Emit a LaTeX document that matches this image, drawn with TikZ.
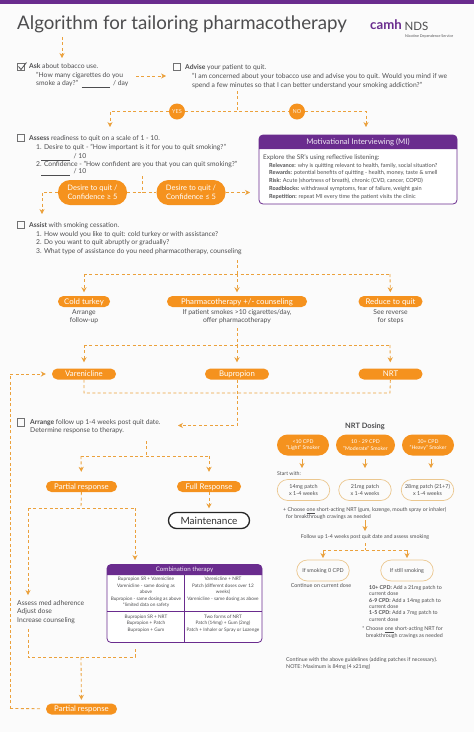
\documentclass[tikz,border=0pt]{standalone}
\usepackage{fontspec}
\setmainfont{Lato}
\usetikzlibrary{arrows.meta}
\definecolor{orng}{HTML}{F5921E}
\definecolor{dashc}{HTML}{EBA13C}
\definecolor{purp}{HTML}{6A2C8E}
\definecolor{ink}{HTML}{4D4D4F}
\definecolor{paper}{HTML}{FBFBFB}
\definecolor{pale}{HTML}{EBC78F}
\newcommand{\fs}[1]{\fontsize{#1}{#1}\selectfont}
\newcommand{\blank}[1]{\rule[-1.5pt]{#1pt}{0.4pt}}
\tikzset{
  x=1pt,y=-1pt,
  every node/.style={text=ink},
  lab/.style={inner sep=0,anchor=west,text height=.72em,text depth=.2em,font=\fs{6.75}},
  small/.style={lab,font=\fs{5.6}},
  clab/.style={inner sep=0,align=center,font=\fs{6.75}},
  cell/.style={inner sep=0,align=center,font=\fs{4.7}},
  pill/.style={fill=orng,rounded corners=5.4,inner sep=0,text=white,font=\fs{7.8},minimum height=11,text height=.72em,text depth=.2em},
  bigpill/.style={fill=orng,rounded corners=12,inner sep=0,text=white,font=\fs{7.5},minimum height=25,minimum width=69,align=center},
  dosepill/.style={fill=orng,rounded corners=10.5,inner sep=0,text=white,font=\fs{5.2},minimum height=21,align=center},
  halo/.style={draw=pale,line width=.7,fill=paper,rounded corners=10.5,inner sep=0,font=\fs{5.4},minimum height=21,minimum width=52.5,align=center},
  disc/.style={circle,fill=orng,inner sep=0,minimum size=16,text=white!85!orng,font=\fs{5.5}},
  tick/.style={draw=ink!80,line width=.7,minimum size=7.6,inner sep=0},
  conn/.style={draw=dashc,line width=.85,dash pattern=on 3pt off 2.4pt},
  arr/.style={conn,-{Stealth[length=5pt,width=5.2pt,fill=dashc]}},
  into/.style={arr,shorten >=3.5pt},
}
\begin{document}
\begin{tikzpicture}
\useasboundingbox (0,0) rectangle (474,732);
\fill[paper] (0,0) rectangle (474,732);
\fill[purp] (0,0) rectangle (474,3.5);

% header
\node[lab,font=\fs{18.7}] (title) at (17,27) {Algorithm for tailoring pharmacotherapy};
\node[lab,font=\bfseries\fs{13.2},text=purp] (camh) at (370,26.5) {camh};
\node[lab,font=\fs{11.5}] (nds) at (404.5,27.5) {NDS};
\node[lab,font=\fs{3.7}] (nds2) at (405,34.5) {Nicotine Dependence Service};

% ask / advise
\coordinate (top1) at (62,37);
\coordinate (top2) at (62,58);
\node[tick] (askbox) at (21,67) {};
\draw[ink,line width=.8] (18.5,66.5) -- (21,69.5) -- (26.5,62.5);
\node[lab] (ask) at (29,65.5) {\textbf{Ask} about tobacco use.};
\node[lab] (ask1) at (36,74.5) {"How many cigarettes do you};
\node[lab] (ask2) at (36,83) {smoke a day?"\ \ \blank{28}\ \ / day};
\coordinate (a1) at (136,76);
\coordinate (a2) at (166,76);
\node[tick] (advbox) at (177,67) {};
\node[lab] (adv) at (185,67) {\textbf{Advise} your patient to quit.};
\node[lab] (adv1) at (192,76) {"I am concerned about your tobacco use and advise you to quit. Would you mind if we};
\node[lab] (adv2) at (192,85) {spend a few minutes so that I can better understand your smoking addiction?"};

% yes / no
\coordinate (b0) at (237,91);
\coordinate (b1) at (237,111.5);
\node[disc] (yes) at (177,111.5) {YES};
\node[disc] (no) at (297,111.5) {NO};
\coordinate (bl) at (110,111.5);
\coordinate (br) at (366,111.5);
\coordinate (bl2) at (110,127);
\coordinate (br2) at (366,127);

% assess
\node[tick] (assbox) at (21,138) {};
\node[lab] (ass) at (29,138) {\textbf{Assess} readiness to quit on a scale of 1 - 10.};
\node[lab] (ass1) at (36,147) {1. Desire to quit - "How important is it for you to quit smoking?"};
\node[lab] (ass2) at (41,156) {\blank{29}\ \ / 10};
\node[lab] (ass3) at (36,164) {2. Confidence - "How confident are you that you can quit smoking?"};
\node[lab] (ass4) at (41,171) {\blank{29}\ \ / 10};
\node[bigpill] (d1) at (92.5,192.5) {Desire to quit /\\[1.5pt]Confidence ≥ 5};
\node[bigpill] (d2) at (191,192.5) {Desire to quit /\\[1.5pt]Confidence ≤ 5};
\coordinate (c0) at (142,176);
\coordinate (c1) at (142,192.5);
\coordinate (c2) at (250,192.5);
\coordinate (c3) at (42,192.5);
\coordinate (c4) at (42,214);

% MI
\node[draw=purp,line width=.8,fill=white,rounded corners=4,minimum width=198,minimum height=69,inner sep=0] (mi) at (358,169.5) {};
\fill[purp] (259,149) [rounded corners=4]-- (259,135) -- (457,135) [sharp corners]-- (457,149) -- cycle;
\node[clab,text=white!90!purp,font=\fs{7.8}] (mih) at (358,142) {Motivational Interviewing (MI)};
\node[lab,font=\fs{6.4}] (mi0) at (263,157) {Explore the SR's using reflective listening:};
\node[small] (mi1) at (269,164.5) {\textbf{Relevance:} why is quitting relevant to health, family, social situation?};
\node[small] (mi2) at (269,172.3) {\textbf{Rewards:} potential benefits of quitting - health, money, taste \& smell};
\node[small] (mi3) at (269,180) {\textbf{Risk:} Acute (shortness of breath), chronic (CVD, cancer, COPD)};
\node[small] (mi4) at (269,188) {\textbf{Roadblocks:} withdrawal symptoms, fear of failure, weight gain};
\node[small] (mi5) at (269,195.7) {\textbf{Repetition:} repeat MI every time the patient visits the clinic};

% assist
\node[tick] (asibox) at (21,225) {};
\node[lab] (asi) at (29,225) {\textbf{Assist} with smoking cessation.};
\node[lab] (asi1) at (36,233.7) {1. How would you like to quit: cold turkey or with assistance?};
\node[lab] (asi2) at (36,242.3) {2. Do you want to quit abruptly or gradually?};
\node[lab] (asi3) at (36,251) {3. What type of assistance do you need pharmacotherapy, counseling};

\coordinate (e0) at (237,260);
\coordinate (e1) at (237,274);
\coordinate (el) at (84,274);
\coordinate (er) at (390,274);
\node[pill,minimum width=52] (cold) at (84,301.5) {Cold turkey};
\node[pill,minimum width=140] (pharm) at (237,301.5) {Pharmacotherapy +/- counseling};
\node[pill,minimum width=64] (reduce) at (390.5,301.5) {Reduce to quit};
\node[clab] (coldt) at (84,316.5) {Arrange\\[1.9pt]follow-up};
\node[clab] (pharmt) at (237,316.5) {If patient smokes >10 cigarettes/day,\\[1.9pt]offer pharmacotherapy};
\node[clab] (redt) at (390.5,316.5) {See reverse\\[1.9pt]for steps};

\coordinate (f0) at (237,328);
\coordinate (f1) at (237,345);
\coordinate (fl) at (84,345);
\coordinate (fr) at (390,345);
\node[pill,minimum width=64] (var) at (84,374) {Varenicline};
\node[pill,minimum width=64] (bup) at (237,374) {Bupropion};
\node[pill,minimum width=64] (nrt) at (390.5,374) {NRT};
\coordinate (g1) at (237,393);
\coordinate (gl) at (84,393);
\coordinate (gr) at (390,393);
\coordinate (g2) at (237,425.5);
\coordinate (g3) at (178,425.5);
\coordinate (h1) at (10,374);
\coordinate (h2) at (10,708.5);

% arrange
\node[tick] (arrbox) at (21,422.5) {};
\node[lab] (arr1) at (30,421.7) {\textbf{Arrange} follow up 1-4 weeks post quit date.};
\node[lab] (arr2) at (30,430.3) {Determine response to therapy.};
\coordinate (i0) at (146,441);
\coordinate (i1) at (146,456);
\coordinate (il) at (81,456);
\coordinate (ir) at (209,456);
\node[pill,minimum width=71] (part) at (81.5,486.5) {Partial response};
\node[pill,minimum width=64] (full) at (209,486.5) {Full Response};
\node[draw=black!85,line width=1.3,fill=white,rounded corners=8,minimum width=81,minimum height=16,inner sep=0,font=\fs{10},text=black!80] (maint) at (209,520.5) {Maintenance};

\coordinate (k1) at (81,508);
\coordinate (kl) at (28,508);
\coordinate (kr) at (135,508);
\coordinate (kl2) at (28,595);
\coordinate (kr2) at (135,560);

\node[lab] (adh1) at (17,602.5) {Assess med adherence};
\node[lab] (adh2) at (17,611) {Adjust dose};
\node[lab] (adh3) at (17,620) {Increase counseling};

% combination therapy
\node[draw=purp,line width=.8,fill=white,rounded corners=4,minimum width=155,minimum height=78,inner sep=0] (combo) at (184.5,603.5) {};
\fill[purp] (107,575) [rounded corners=4]-- (107,564.5) -- (262,564.5) [sharp corners]-- (262,575) -- cycle;
\draw[purp,line width=.7] (184.5,575) -- (184.5,642.5) (107,611) -- (262,611);
\node[clab,text=white!90!purp,font=\fs{6.2}] (comboh) at (184.5,570) {Combination therapy};
\node[cell,anchor=north] (c11) at (146,577) {Bupropion SR + Varenicline\\[1.8pt]Varenicline - same dosing as\\[1.8pt]above\\[1.8pt]Bupropion - same dosing as above\\[1.8pt]*limited data on safety};
\node[cell,anchor=north] (c12) at (223,577) {Varenicline + NRT\\[1.8pt]Patch (different doses over 12\\[1.8pt]weeks)\\[1.8pt]Varenicline - same dosing as above};
\node[cell,anchor=north] (c21) at (146,614.5) {Bupropion SR + NRT\\[1.8pt]Bupropion + Patch\\[1.8pt]Bupropion + Gum};
\node[cell,anchor=north] (c22) at (223,614.5) {Two forms of NRT\\[1.8pt]Patch (14mg) + Gum (2mg)\\[1.8pt]Patch + Inhaler or Spray or Lozenge};

\coordinate (m0) at (28,629);
\coordinate (m1) at (28,657);
\coordinate (m2) at (135,649);
\coordinate (m3) at (135,657);
\coordinate (m4) at (81,657);
\node[pill,minimum width=71] (part2) at (81.5,709) {Partial response};

% NRT dosing
\node[clab,font=\bfseries\fs{7.4}] (dose) at (365,426) {NRT Dosing};
\node[dosepill,minimum width=52] (o1) at (303,445) {<10 CPD\\[1.5pt]"Light" Smoker};
\node[dosepill,minimum width=59] (o2) at (365.5,445) {10 - 29 CPD\\[1.5pt]"Moderate" Smoker};
\node[dosepill,minimum width=52] (o3) at (428,445) {30+ CPD\\[1.5pt]"Heavy" Smoker};
\node[lab,font=\fs{5.2}] (start) at (277,473) {Start with:};
\node[halo] (p1) at (303.5,490) {14mg patch\\[1pt]x 1-4 weeks};
\node[halo] (p2) at (365,490) {21mg patch\\[1pt]x 1-4 weeks};
\node[halo] (p3) at (427.5,490) {28mg patch (21+7)\\[1pt]x 1-4 weeks};
\coordinate (w1) at (302,459);
\coordinate (w2) at (302,468);
\coordinate (w3) at (365,459);
\coordinate (w4) at (365,468);
\coordinate (w5) at (431,459);
\coordinate (w6) at (431,468);
\draw[arr,dash pattern=] (w1) -- (w2);
\draw[arr,dash pattern=] (w3) -- (w4);
\draw[arr,dash pattern=] (w5) -- (w6);
\node[lab,font=\fs{5.3}] (ch1) at (283,509) {+ Choose \underline{one} short-acting NRT (gum, lozenge, mouth spray or inhaler)};
\node[lab,font=\fs{5.3}] (ch2) at (286,515.5) {for breakthrough cravings as needed};
\coordinate (n0) at (365,520);
\coordinate (n1) at (365,531);
\node[clab,font=\fs{5.3}] (fu) at (365,537.5) {Follow up 1-4 weeks post quit date and assess smoking};
\coordinate (q0) at (365,543);
\coordinate (q1) at (365,550);
\coordinate (ql) at (323,550);
\coordinate (qr) at (407,550);
\coordinate (ql2) at (323,558);
\coordinate (qr2) at (407,558);
\node[halo] (s1) at (323,570.5) {If smoking 0 CPD};
\node[halo] (s2) at (407,570.5) {If still smoking};
\node[clab,font=\fs{5.4}] (cont) at (321,586) {Continue on current dose};
\node[lab,font=\fs{5.3}] (t1) at (369,587) {\textbf{10+ CPD:} Add a 21mg patch to};
\node[lab,font=\fs{5.3}] (t2) at (369,593.3) {current dose};
\node[lab,font=\fs{5.3}] (t3) at (369,599.6) {\textbf{6-9 CPD:} Add a 14mg patch to};
\node[lab,font=\fs{5.3}] (t4) at (369,605.9) {current dose};
\node[lab,font=\fs{5.3}] (t5) at (369,612.2) {\textbf{1-5 CPD:} Add a 7mg patch to};
\node[lab,font=\fs{5.3}] (t6) at (369,618.5) {current dose};
\node[lab,font=\fs{5.3}] (t7) at (362,628) {* Choose \underline{one} short-acting NRT for};
\node[lab,font=\fs{5.3}] (t8) at (366,634.5) {breakthrough cravings as needed};
\node[lab,font=\fs{5.3}] (t9) at (286,659) {Continue with the above guidelines (adding patches if necessary).};
\node[lab,font=\fs{5.3}] (t10) at (286,665.5) {NOTE: Maximum is 84mg (4 x21mg)};

% connectors
\draw[arr] (top1) -- (top2);
\draw[arr] (a1) -- (a2);
\draw[conn] (b0) -- (b1);
\draw[conn] (yes) -- (no);
\draw[arr] (yes) -- (bl) -- (bl2);
\draw[arr] (no) -- (br) -- (br2);
\draw[conn] (c0) -- (c1);
\draw[conn] (d1) -- (d2);
\draw[arr] (d2) -- (c2);
\draw[arr] (d1) -- (c3) -- (c4);
\draw[conn] (e0) -- (e1);
\draw[conn] (el) -- (er);
\draw[into] (el) -- (cold);
\draw[into] (e1) -- (pharm);
\draw[into] (er) -- (reduce);
\draw[conn] (f0) -- (f1);
\draw[conn] (fl) -- (fr);
\draw[into,shorten >=6pt] (fl) -- (var);
\draw[into,shorten >=6pt] (f1) -- (bup);
\draw[into,shorten >=6pt] (fr) -- (nrt);
\draw[conn] (var) -- (gl) -- (gr) -- (nrt);
\draw[arr] (bup) -- (g2) -- (g3);
\draw[into,shorten >=6pt] (h2) -- (h1) -- (var);
\draw[conn,shorten >=4pt] (h2) -- (part2);
\draw[conn] (i0) -- (i1);
\draw[conn] (il) -- (ir);
\draw[into,shorten >=9pt] (il) -- (part);
\draw[into,shorten >=9pt] (ir) -- (full);
\draw[into] (full) -- (maint);
\draw[conn] (part) -- (k1);
\draw[conn] (kl) -- (kr);
\draw[arr] (kl) -- (kl2);
\draw[arr] (kr) -- (kr2);
\draw[conn] (m0) -- (m1) -- (m3) -- (m2);
\draw[into] (m4) -- (part2);
\draw[arr,dash pattern=] (n0) -- (n1);
\draw[conn] (q0) -- (q1);
\draw[conn] (ql) -- (qr);
\draw[arr,dash pattern=] (ql) -- (ql2);
\draw[arr,dash pattern=] (qr) -- (qr2);
\end{tikzpicture}
\end{document}
